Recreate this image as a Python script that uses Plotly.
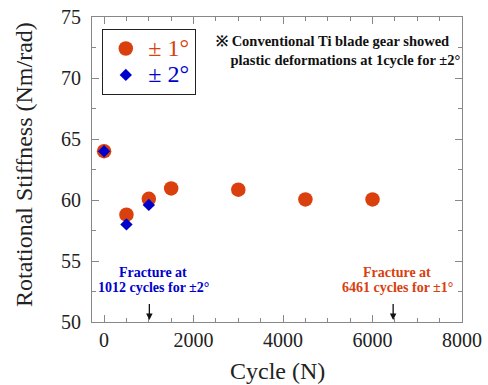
import plotly.graph_objects as go

cycles_1deg = [0, 500, 1000, 1500, 3000, 4500, 6000]
stiff_1deg = [64.0, 58.8, 60.1, 60.95, 60.85, 60.05, 60.05]
cycles_2deg = [0, 500, 1000]
stiff_2deg = [64.0, 58.0, 59.6]
fracture_cycles = [1012, 6461]
fracture_line1 = ["Fracture at", "Fracture at"]
fracture_line2 = ["1012 cycles for ±2°", "6461 cycles for ±1°"]
x_ticks = [0, 2000, 4000, 6000, 8000]

ORANGE = "#D9400D"
BLUE = "#0000CC"
FONT = "Liberation Serif, Times New Roman, serif"

L, R, T, B = 92, 26, 17, 63
W, H = 488, 385
PW, PH = W - L - R, H - T - B


def px_x(p):
    return (p - L) / PW


def px_y(p):
    return 1 - (p - T) / PH


fig = go.Figure()
fig.add_trace(go.Scatter(x=cycles_1deg, y=stiff_1deg, mode="markers",
                         name="<span style='color:%s;font-size:24px'>± 1°</span>" % ORANGE,
                         marker=dict(symbol="circle", size=14.5, color=ORANGE)))
fig.add_trace(go.Scatter(x=cycles_2deg, y=stiff_2deg, mode="markers",
                         name="<span style='color:%s;font-size:24px'>± 2°</span>" % BLUE,
                         marker=dict(symbol="diamond", size=9.5, color=BLUE)))

axis_common = dict(showline=True, linecolor="#888888", linewidth=1, mirror="allticks",
                   ticks="inside", tickcolor="#888888", ticklen=7, showgrid=False, zeroline=False,
                   automargin=False,
                   tickfont=dict(family=FONT, size=20, color="#222222"))
fig.update_xaxes(range=[-270, 8000], tickvals=x_ticks,
                 minor=dict(dtick=500, ticks="inside", ticklen=4, tickcolor="#888888", showgrid=False),
                 **axis_common)
fig.update_yaxes(range=[50, 75], dtick=5,
                 minor=dict(dtick=2.5, ticks="inside", ticklen=4, tickcolor="#888888", showgrid=False),
                 ticklabelstandoff=6,
                 **axis_common)

# axis titles
fig.add_annotation(x=0.5, y=px_y(371), xref="paper", yref="paper", xanchor="center", yanchor="middle",
                   text="Cycle (N)", showarrow=False, font=dict(family=FONT, size=24, color="#222222"))
fig.add_annotation(x=px_x(24), y=px_y(165), xref="paper", yref="paper", xanchor="center", yanchor="middle",
                   text="Rotational Stiffness (Nm/rad)", textangle=-90, showarrow=False,
                   font=dict(family=FONT, size=24, color="#222222"))

for xc, l1, l2, col in zip(fracture_cycles, fracture_line1, fracture_line2, [BLUE, ORANGE]):
    fig.add_annotation(x=xc, y=50.16, ax=xc, ay=51.6, xref="x", yref="y", axref="x", ayref="y",
                       showarrow=True, arrowhead=2, arrowsize=1, arrowwidth=1.3, arrowcolor="#111111", text="")
    fig.add_annotation(x=xc, y=54.06, xref="x", yref="y", text="<b>%s</b>" % l1, showarrow=False,
                       xshift=4, font=dict(family=FONT, size=14, color=col), align="center")
    fig.add_annotation(x=xc, y=52.79, xref="x", yref="y", text="<b>%s</b>" % l2, showarrow=False,
                       xshift=4, font=dict(family=FONT, size=14, color=col), align="center")

fig.add_annotation(x=px_x(214), y=px_y(31), xref="paper", yref="paper",
                   xanchor="left", yanchor="top",
                   text="<b>※ Conventional Ti blade gear showed<br>    plastic deformations at 1cycle for ±2°</b>",
                   showarrow=False, align="left", font=dict(family=FONT, size=14.5, color="#111111"))

fig.update_layout(
    width=W, height=H,
    margin=dict(l=L, r=R, t=T, b=B, autoexpand=False),
    paper_bgcolor="white", plot_bgcolor="white",
    showlegend=True,
    legend=dict(x=px_x(102), y=px_y(29), xanchor="left", yanchor="top",
                bordercolor="#222222", borderwidth=1.3,
                bgcolor="white", font=dict(family=FONT, size=18), itemsizing="trace",
                tracegroupgap=0, itemwidth=35),
)

fig.write_html("out.html", config={"displayModeBar": False},
               post_script="document.body.style.margin='0px';document.body.style.overflow='hidden';")
